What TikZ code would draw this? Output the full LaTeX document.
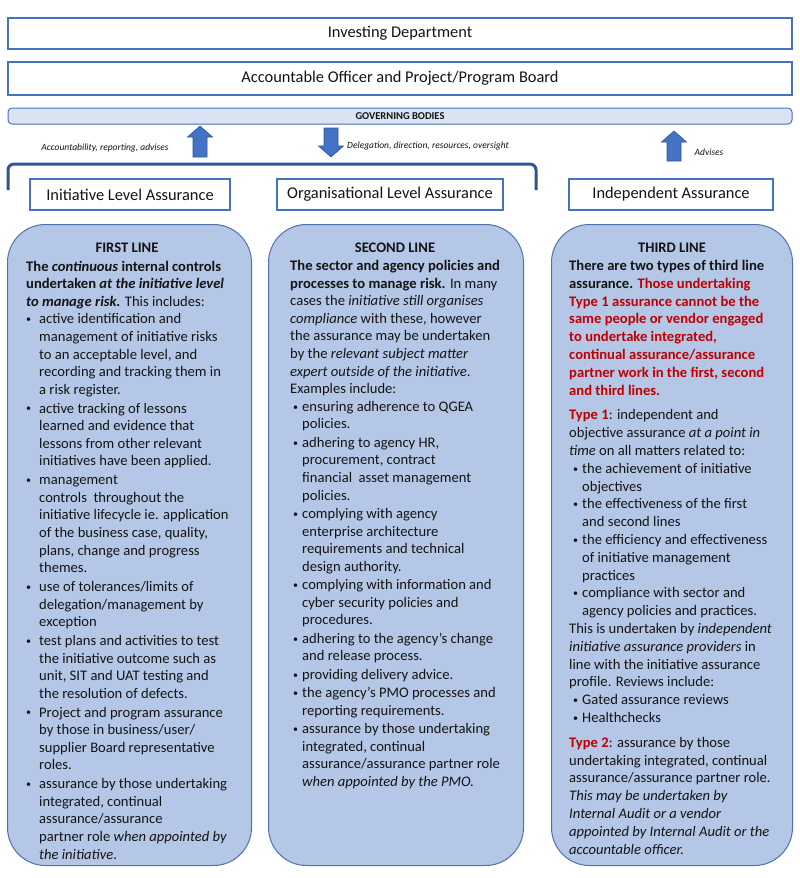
\documentclass[tikz,border=0pt]{standalone}
\usepackage{fontspec}
\setmainfont{Carlito}
\definecolor{boxfill}{HTML}{B4C7E7}
\definecolor{boxline}{HTML}{5171AB}
\definecolor{hdrline}{HTML}{4472C4}
\definecolor{govfill}{HTML}{DAE3F3}
\definecolor{arrfill}{HTML}{4472C4}
\definecolor{arrline}{HTML}{2F5597}
\definecolor{brk}{HTML}{2F5597}
\definecolor{tred}{HTML}{C00000}
\definecolor{txt}{HTML}{141414}
\newlength\bwid
\newlength\boff
\newcommand\bu{\makebox[\bwid][l]{\hspace*{\boff}\raisebox{1.2pt}{\fontsize{10}{10}\selectfont\textbullet}}}
\newcommand\ct{\hspace*{\bwid}}
\tikzset{
  hdr/.style={draw=hdrline, line width=1.8pt, fill=white, inner sep=0pt, text=txt,
    font=\fontsize{16.4}{19}\selectfont},
  bigbox/.style={draw=boxline, line width=1pt, fill=boxfill, rounded corners=38pt,
    anchor=north west, inner sep=0pt},
  bodytext/.style={anchor=base west, inner sep=0pt, text=txt},
  ttl/.style={anchor=base, inner sep=0pt, text=txt, font=\fontsize{14.6}{17.6}\selectfont\bfseries},
  lbl/.style={inner sep=0pt, text=txt, font=\fontsize{9.5}{11}\selectfont\itshape},
  blockarrow/.style={fill=arrfill, draw=arrline, line width=0.6pt},
}
\begin{document}
\begin{tikzpicture}[x=1pt,y=-1pt]
\useasboundingbox (0,0) rectangle (800,878);
\fill[white] (0,0) rectangle (800,878);

% top boxes
\node[hdr, minimum width=784pt, minimum height=31pt] (inv) at (400,33.5) {Investing Department};
\node[hdr, minimum width=784pt, minimum height=33pt] (acc) at (400,78.5) {Accountable Officer and Project/Program Board};
\node[draw=hdrline, line width=1pt, fill=govfill, rounded corners=4pt, minimum width=784pt,
  minimum height=16pt, inner sep=0pt, text=txt, font=\fontsize{10.5}{12}\selectfont\bfseries]
  (gov) at (400,116) {GOVERNING BODIES};

% block arrows
\draw[blockarrow] (193,157) -- (193,137) -- (187.5,137) -- (200,126) -- (212.5,137) -- (207,137) -- (207,157) -- cycle;
\draw[blockarrow] (324,128) -- (338,128) -- (338,146) -- (343.5,146) -- (331,157) -- (318.5,146) -- (324,146) -- cycle;
\draw[blockarrow] (667,161) -- (667,142) -- (661.5,142) -- (674,131) -- (686.5,142) -- (681,142) -- (681,161) -- cycle;

\node[lbl] (l1) at (105,148) {Accountability, reporting, advises};
\node[lbl, anchor=west] (l2) at (347,146) {Delegation, direction, resources, oversight};
\node[lbl] (l3) at (709,152) {Advises};

% bracket
\draw[brk, line width=3pt, rounded corners=6pt] (8,190) -- (8,164) -- (536,164) -- (536,190);

% header boxes
\node[hdr, minimum width=200pt, minimum height=31pt] (h1) at (130,194.5) {Initiative Level Assurance};
\node[hdr, minimum width=226pt, minimum height=31pt] (h2) at (390,194.5) {Organisational Level Assurance};
\node[hdr, minimum width=204pt, minimum height=31pt] (h3) at (671,194.5) {Independent Assurance};

% big boxes
\node[bigbox, minimum width=244pt, minimum height=641pt] (b1) at (7,224) {};
\node[bigbox, minimum width=255pt, minimum height=641pt] (b2) at (268,224) {};
\node[bigbox, minimum width=241pt, minimum height=641pt] (b3) at (551,224) {};

\node[ttl] (t1) at (127,252.5) {FIRST LINE};
\node[ttl] (t2) at (395,252.5) {SECOND LINE};
\node[ttl] (t3) at (672,252.5) {THIRD LINE};

% first line text
\node[bodytext] (x1) at (26,271) {\fontsize{14.6}{17.6}\selectfont\setlength\bwid{13pt}\setlength\boff{0pt}%
\parbox[t]{260pt}{%
\textbf{The \textit{continuous} internal controls}\\
\textbf{undertaken \textit{at the initiative level}}\\
\textbf{\textit{to manage risk.}} This includes:\\
\bu active identification and\\
\ct management of initiative risks\\
\ct to an acceptable level, and\\
\ct recording and tracking them in\\
\ct a risk register.\\[1.2pt]
\bu active tracking of lessons\\
\ct learned and evidence that\\
\ct lessons from other relevant\\
\ct initiatives have been applied.\\[1.2pt]
\bu management\\
\ct controls\ \ throughout the\\
\ct initiative lifecycle ie. application\\
\ct of the business case, quality,\\
\ct plans, change and progress\\
\ct themes.\\[1.2pt]
\bu use of tolerances/limits of\\
\ct delegation/management by\\
\ct exception\\[1.2pt]
\bu test plans and activities to test\\
\ct the initiative outcome such as\\
\ct unit, SIT and UAT testing and\\
\ct the resolution of defects.\\[1.2pt]
\bu Project and program assurance\\
\ct by those in business/user/\\
\ct supplier Board representative\\
\ct roles.\\[1.2pt]
\bu assurance by those undertaking\\
\ct integrated, continual\\
\ct assurance/assurance\\
\ct partner role \textit{when appointed by}\\
\ct \textit{the initiative}.}};

% second line text
\node[bodytext] (x2) at (290,270.5) {\fontsize{14.6}{17.6}\selectfont\setlength\bwid{12pt}\setlength\boff{3pt}%
\parbox[t]{260pt}{%
\textbf{The sector and agency policies and}\\
\textbf{processes to manage risk.} In many\\
cases the \textit{initiative still organises}\\
\textit{compliance} with these, however\\
the assurance may be undertaken\\
by the \textit{relevant subject matter}\\
\textit{expert outside of the initiative}.\\
Examples include:\\
\bu ensuring adherence to QGEA\\
\ct policies.\\[0.8pt]
\bu adhering to agency HR,\\
\ct procurement, contract\\
\ct financial\ \ asset management\\
\ct policies.\\[0.8pt]
\bu complying with agency\\
\ct enterprise architecture\\
\ct requirements and technical\\
\ct design authority.\\[0.8pt]
\bu complying with information and\\
\ct cyber security policies and\\
\ct procedures.\\[0.8pt]
\bu adhering to the agency’s change\\
\ct and release process.\\[0.8pt]
\bu providing delivery advice.\\[0.8pt]
\bu the agency’s PMO processes and\\
\ct reporting requirements.\\[0.8pt]
\bu assurance by those undertaking\\
\ct integrated, continual\\
\ct assurance/assurance partner role\\
\ct \textit{when appointed by the PMO.}}};

% third line text
\node[bodytext] (x3) at (569,270.5) {\fontsize{14.6}{17.8}\selectfont\setlength\bwid{13pt}\setlength\boff{4pt}%
\parbox[t]{260pt}{%
\textbf{There are two types of third line}\\
\textbf{assurance. {\color{tred}Those undertaking}}\\
\textbf{\color{tred}Type 1 assurance cannot be the}\\
\textbf{\color{tred}same people or vendor engaged}\\
\textbf{\color{tred}to undertake integrated,}\\
\textbf{\color{tred}continual assurance/assurance}\\
\textbf{\color{tred}partner work in the first, second}\\
\textbf{\color{tred}and third lines.}\\[7pt]
{\color{tred}\textbf{Type 1}}: independent and\\
objective assurance \textit{at a point in}\\
\textit{time} on all matters related to:\\
\bu the achievement of initiative\\
\ct objectives\\
\bu the effectiveness of the first\\
\ct and second lines\\
\bu the efficiency and effectiveness\\
\ct of initiative management\\
\ct practices\\
\bu compliance with sector and\\
\ct agency policies and practices.\\
This is undertaken by \textit{independent}\\
\textit{initiative assurance providers} in\\
line with the initiative assurance\\
profile. Reviews include:\\
\bu Gated assurance reviews\\
\bu Healthchecks\\[7pt]
{\color{tred}\textbf{Type 2}}: assurance by those\\
undertaking integrated, continual\\
assurance/assurance partner role.\\
\textit{This may be undertaken by}\\
\textit{Internal Audit or a vendor}\\
\textit{appointed by Internal Audit or the}\\
\textit{accountable officer.}}};
\end{tikzpicture}
\end{document}
